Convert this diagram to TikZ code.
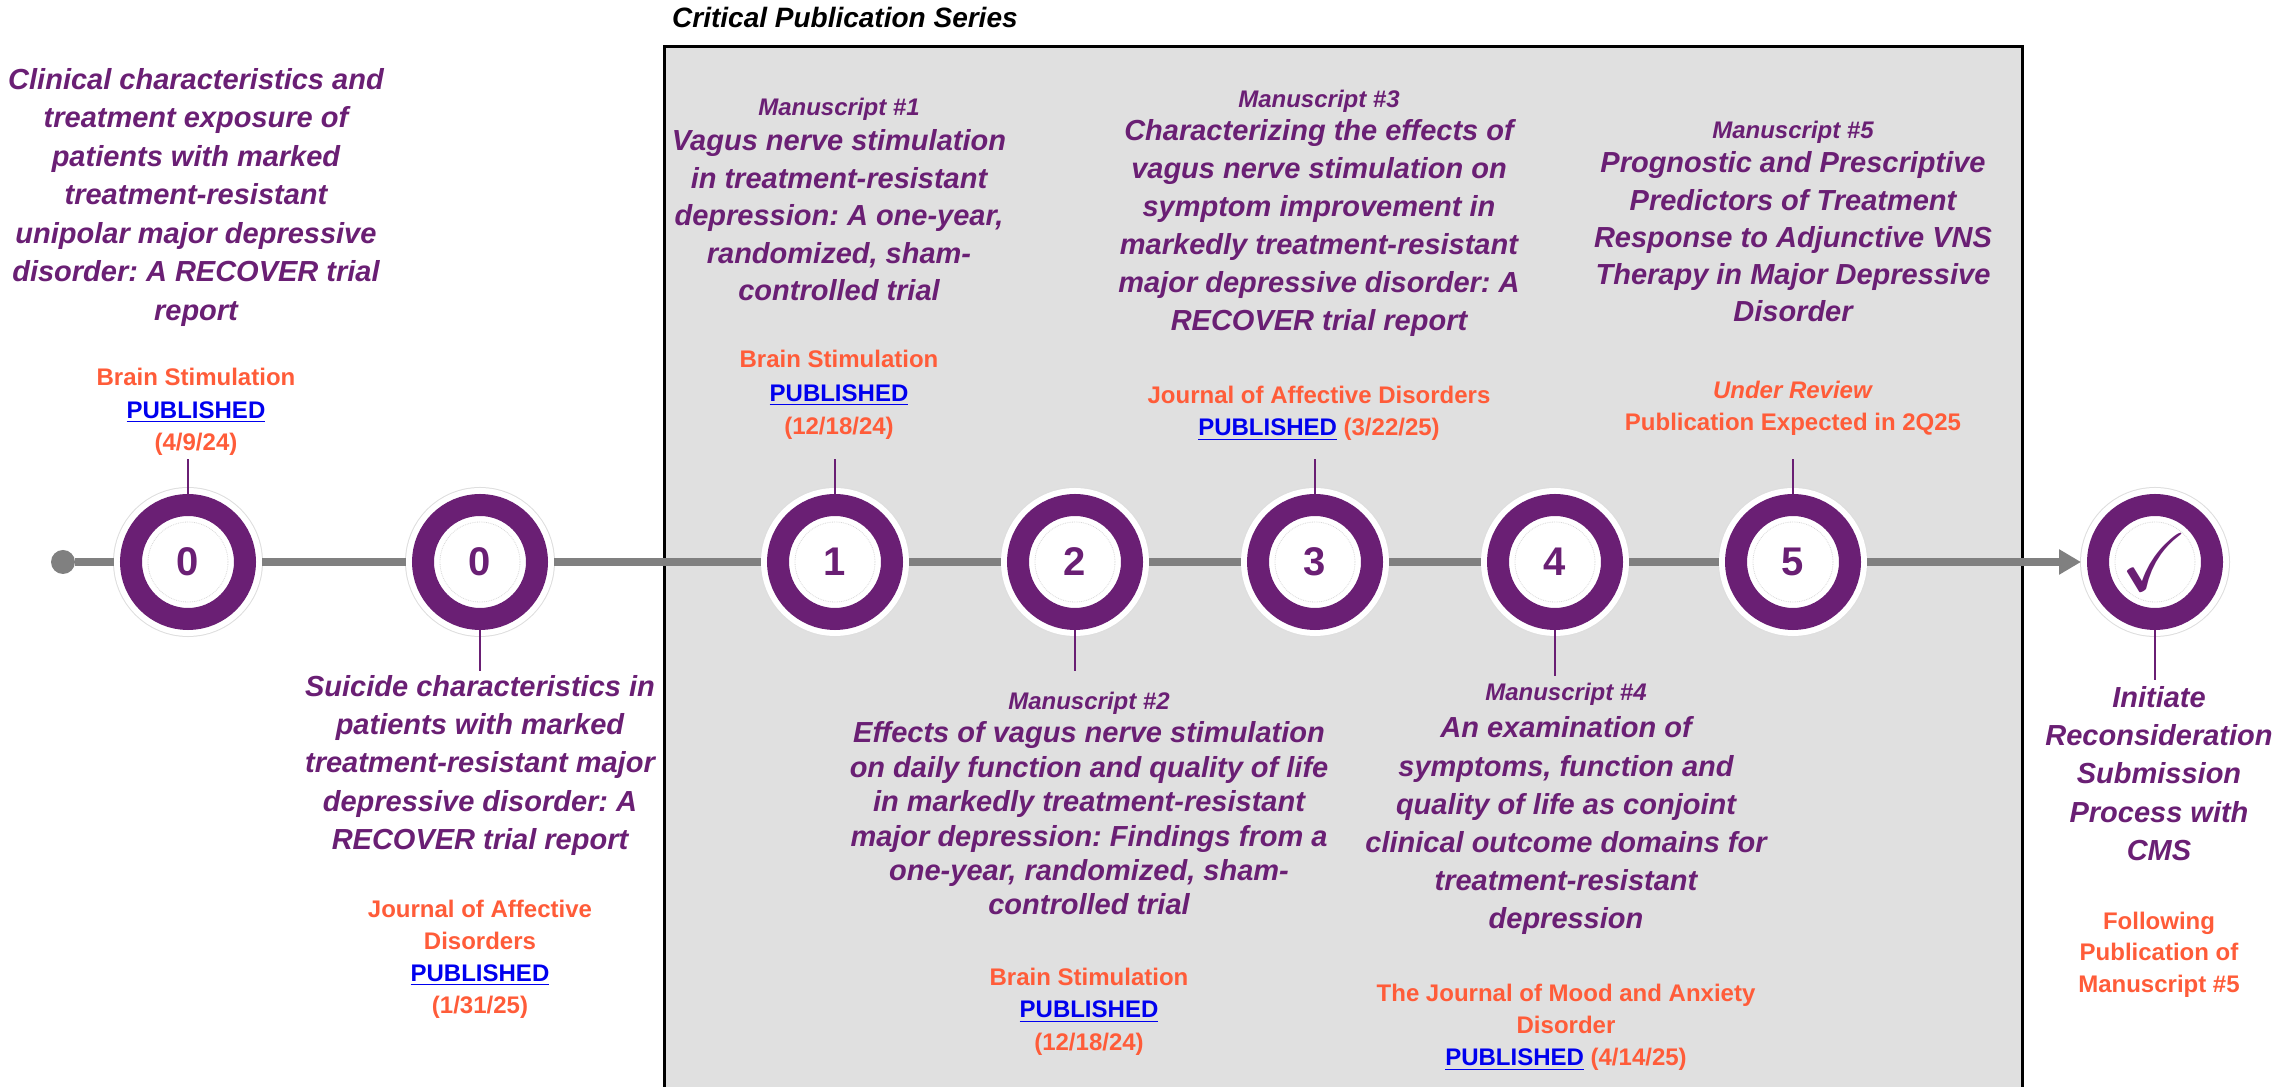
\documentclass[tikz,border=0pt]{standalone}
\usepackage{fontspec}
\setmainfont{Liberation Sans}
\usepackage{amssymb}
\usetikzlibrary{positioning,arrows.meta}
\frenchspacing

\definecolor{vnspurple}{RGB}{106,31,116}
\definecolor{vnsorange}{RGB}{255,92,57}
\definecolor{linkblue}{RGB}{0,0,238}
\definecolor{panelgray}{RGB}{224,224,224}
\definecolor{trackgray}{RGB}{128,128,128}

\newcommand{\publink}{\textcolor{linkblue}{\underline{PUBLISHED}}}

\tikzset{
  ring/.style={circle, minimum size=114pt, inner sep=0pt, fill=white,
    draw=vnspurple, line width=22pt,
    preaction={draw=black!13, line width=36pt},
    preaction={draw=white, line width=34pt},
    path picture={\draw[black!15, densely dotted, line width=0.8pt]
      (path picture bounding box.center) circle (40pt);},
    text=vnspurple, font=\fontsize{40}{40}\selectfont\bfseries},
  dot/.style={circle, fill=trackgray, minimum size=24pt, inner sep=0pt},
  track/.style={draw=trackgray, line width=8pt},
  stem/.style={draw=vnspurple, line width=2pt},
  headtxt/.style={font=\fontsize{24}{28}\selectfont\bfseries\itshape,
    text=vnspurple, inner sep=0pt},
  titletxt/.style={font=\fontsize{29}{#1}\selectfont\bfseries\itshape,
    text=vnspurple, align=center, inner sep=0pt},
  titletxt/.default=38,
  jrnltxt/.style={font=\fontsize{24}{#1}\selectfont\bfseries,
    text=vnsorange, align=center, inner sep=0pt},
  jrnltxt/.default=32,
  serieslbl/.style={font=\fontsize{28}{32}\selectfont\bfseries\itshape,
    inner sep=0pt},
}

\begin{document}
\begin{tikzpicture}[x=1pt, y=1pt]
\path[use as bounding box, fill=white] (0,0) rectangle (2287,1087);

% the series panel
\fill[panelgray] (664,0) rectangle (2022,1040);
\draw[line width=3pt] (664,0) |- (2022,1040) -- (2022,0);
\coordinate (panel) at (664,1040);
\node[serieslbl, above right=19pt and 8pt of panel] (series) {Critical Publication Series};

% milestones
\node[dot] (start) at (63,525) {};
\node[ring] (c0a) at (188,525) {0};
\node[ring] (c0b) at (480,525) {0};
\foreach \n/\x in {1/835,2/1075,3/1315,4/1555,5/1793}
  \node[ring] (c\n) at (\x,525) {\n};
\node[ring] (cchk) at (2155,525) {\scalebox{2.05}{$\checkmark$}};

% timeline
\draw[track, shorten >=6pt] (start) -- (c0a);
\foreach \a/\b in {c0a/c0b,c0b/c1,c1/c2,c2/c3,c3/c4,c4/c5}
  \draw[track, shorten <=6pt, shorten >=6pt] (\a) -- (\b);
\draw[track, shorten <=6pt, shorten >=6pt, -{Triangle[length=22pt,width=24pt]}] (c5) -- (cchk);

% stems
\draw[stem] (c0a.north) -- ++(0,35) coordinate (t0a);
\draw[stem] (c1.north) -- ++(0,35) coordinate (t1);
\draw[stem] (c3.north) -- ++(0,35) coordinate (t3);
\draw[stem] (c5.north) -- ++(0,35) coordinate (t5);
\draw[stem] (c0b.south) -- ++(0,-41) coordinate (b0b);
\draw[stem] (c2.south) -- ++(0,-41) coordinate (b2);
\draw[stem] (c4.south) -- ++(0,-46) coordinate (b4);
\draw[stem] (cchk.south) -- ++(0,-50) coordinate (bchk);

% papers above the line
\node[jrnltxt=32.5, above=3pt of t0a, xshift=8pt] (j0a) {Brain Stimulation\\ \publink\\ (4/9/24)};
\node[titletxt=38.5, above=42pt of j0a] (p0a) {Clinical characteristics and\\ treatment exposure of\\ patients with marked\\ treatment-resistant\\ unipolar major depressive\\ disorder: A RECOVER trial\\ report};

\node[jrnltxt=33.5, above=19pt of t1, xshift=4pt] (j1) {Brain Stimulation\\ \publink\\ (12/18/24)};
\node[titletxt=37.5, above=49pt of j1] (p1) {Vagus nerve stimulation\\ in treatment-resistant\\ depression: A one-year,\\ randomized, sham-\\ controlled trial};
\node[headtxt, above=9pt of p1] (h1) {Manuscript \#1};

\node[jrnltxt=32, above=18pt of t3, xshift=4pt] (j3) {Journal of Affective Disorders\\ \publink{} (3/22/25)};
\node[titletxt=38, above=49pt of j3] (p3) {Characterizing the effects of\\ vagus nerve stimulation on\\ symptom improvement in\\ markedly treatment-resistant\\ major depressive disorder: A\\ RECOVER trial report};
\node[headtxt, above=7pt of p3] (h3) {Manuscript \#3};

\node[jrnltxt=32, above=23pt of t5] (j5) {\textit{Under Review}\\ Publication Expected in 2Q25};
\node[titletxt=37.2, above=59pt of j5] (p5) {Prognostic and Prescriptive\\ Predictors of Treatment\\ Response to Adjunctive VNS\\ Therapy in Major Depressive\\ Disorder};
\node[headtxt, above=8pt of p5] (h5) {Manuscript \#5};

% papers below the line
\node[titletxt=38.3, below=4pt of b0b] (p0b) {Suicide characteristics in\\ patients with marked\\ treatment-resistant major\\ depressive disorder: A\\ RECOVER trial report};
\node[jrnltxt=32, below=44pt of p0b] (j0b) {Journal of Affective\\ Disorders\\ \publink\\ (1/31/25)};

\node[headtxt, below=21pt of b2, xshift=14pt] (h2) {Manuscript \#2};
\node[titletxt=34.4, below=7pt of h2] (p2) {Effects of vagus nerve stimulation\\ on daily function and quality of life\\ in markedly treatment-resistant\\ major depression: Findings from a\\ one-year, randomized, sham-\\ controlled trial};
\node[jrnltxt=32.5, below=52pt of p2] (j2) {Brain Stimulation\\ \publink\\ (12/18/24)};

\node[headtxt, below=7pt of b4, xshift=11pt] (h4) {Manuscript \#4};
\node[titletxt=38.2, below=11pt of h4] (p4) {An examination of\\ symptoms, function and\\ quality of life as conjoint\\ clinical outcome domains for\\ treatment-resistant\\ depression};
\node[jrnltxt=32, below=49pt of p4] (j4) {The Journal of Mood and Anxiety\\ Disorder\\ \publink{} (4/14/25)};

\node[titletxt=38.3, below=6pt of bchk, xshift=4pt] (pchk) {Initiate\\ Reconsideration\\ Submission\\ Process with\\ CMS};
\node[jrnltxt=31.5, below=51pt of pchk] (jchk) {Following\\ Publication of\\ Manuscript \#5};
\end{tikzpicture}
\end{document}
